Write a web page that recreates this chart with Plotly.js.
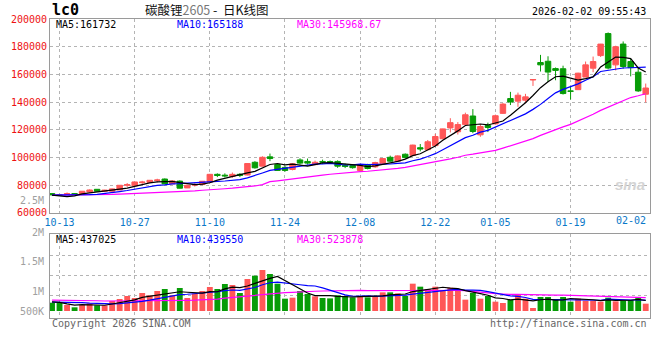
<!DOCTYPE html>
<html><head><meta charset="utf-8">
<script src="https://cdn.plot.ly/plotly-3.0.1.min.js"></script>
<style>html,body{margin:0;padding:0;background:#fff;} #chart{width:660px;height:360px;}</style>
</head><body><div id="chart"></div>
<script>
// ---- data ----
const dates = [
 '2025-10-10','2025-10-13','2025-10-14','2025-10-15','2025-10-16','2025-10-17','2025-10-20','2025-10-21','2025-10-22','2025-10-23','2025-10-24',
 '2025-10-27','2025-10-28','2025-10-29','2025-10-30','2025-10-31',
 '2025-11-03','2025-11-04','2025-11-05','2025-11-06','2025-11-07','2025-11-10','2025-11-11','2025-11-12','2025-11-13','2025-11-14',
 '2025-11-17','2025-11-18','2025-11-19','2025-11-20','2025-11-21','2025-11-24','2025-11-25','2025-11-26','2025-11-27','2025-11-28',
 '2025-12-01','2025-12-02','2025-12-03','2025-12-04','2025-12-05','2025-12-08','2025-12-09','2025-12-10','2025-12-11','2025-12-12',
 '2025-12-15','2025-12-16','2025-12-17','2025-12-18','2025-12-19','2025-12-22','2025-12-23','2025-12-24','2025-12-25','2025-12-26',
 '2025-12-29','2025-12-30','2025-12-31',
 '2026-01-05','2026-01-06','2026-01-07','2026-01-08','2026-01-09','2026-01-12','2026-01-13','2026-01-14','2026-01-15','2026-01-16',
 '2026-01-19','2026-01-20','2026-01-21','2026-01-22','2026-01-23','2026-01-26','2026-01-27','2026-01-28','2026-01-29','2026-01-30',
 '2026-02-02'
];
const openP = [74000,73200,73600,74000,73400,75200,77100,75700,75700,76600,80000,
 79600,81900,82100,83400,84500,81000,83000,78100,80100,80500,
 82400,87900,87300,86400,87900,87400,96600,93800,100500,95000,
 92900,91400,98300,97200,94900,97200,97100,97200,94500,94300,
 90700,95000,93300,95500,100200,97400,102400,101600,107100,105700,
 108600,113600,121400,118600,123800,130000,116400,123100,
 124300,131900,142600,140700,141400,156000,168600,169500,164200,164100,
 148000,149000,158100,164500,173600,189500,166900,181900,169300,161600,
 145700];
const highP = [74300,73500,74800,74300,75700,77000,77200,76700,77600,80000,81600,
 82400,83200,83800,84700,84900,83500,83500,80300,81800,83100,
 88200,88600,88600,89200,88800,96000,97400,100900,102900,95900,
 94000,95700,99500,99300,97800,98500,97900,98000,95600,95000,
 95300,95500,97000,99600,101400,101600,103000,109300,109800,112700,
 117100,120900,128400,125600,132400,135000,124000,125200,
 131000,139300,147400,146900,146000,156300,174100,173100,165000,166300,
 150900,161200,169300,172900,182000,190300,180700,183800,171200,165000,
 153400];
const lowP = [72900,72300,73000,73000,73400,74800,75500,75400,75500,76600,78800,
 79300,81000,81900,82000,80900,81000,77800,78000,79100,80500,
 82300,85900,85700,85400,85900,87200,92000,93700,97400,90500,
 89800,90800,95100,95000,94700,95300,95800,92600,92400,92000,
 90000,91500,92600,95000,97000,97000,99400,101000,104500,105200,
 108300,113200,118100,116600,123500,117600,115000,118400,
 123800,131500,137900,136600,139200,151700,162100,154500,155800,145500,
 141900,149000,158000,161600,172600,163700,162900,164100,158600,147400,
 139800];
const closeP = [73100,72800,73900,73300,75700,76600,75700,76400,77400,80000,80500,
 82400,82300,83600,83800,81000,83100,77900,80000,80500,82900,
 87900,87100,86800,87900,87200,95700,92600,100200,99300,90700,
 90700,95500,96000,96000,96600,96700,96700,93800,93600,92700,
 95000,92100,96400,99300,97400,101200,100000,109000,106200,111400,
 115200,120700,125200,123800,130900,118800,122400,121700,
 130200,138600,140100,145000,143800,156300,166900,161700,162900,146200,
 147900,160900,166900,169300,181900,164600,180000,165700,164900,148100,
 150200];
const volume = [350000,350000,252000,155000,252000,322000,238000,238000,420000,504000,
 630000,546000,756000,658000,840000,924000,658000,966000,546000,728000,
 840000,1008000,924000,1134000,1092000,756000,1344000,1484000,1722000,1554000,
 1148000,518000,560000,840000,714000,616000,546000,530000,658000,630000,
 574000,630000,574000,630000,784000,784000,742000,630000,1148000,1022000,
 924000,1022000,868000,980000,924000,476000,756000,518000,630000,392000,
 336000,462000,672000,518000,126000,588000,588000,462000,588000,392000,
 518000,434000,434000,392000,560000,406000,434000,462000,588000,308000];

// MA values before a full window exists
const ma5Head = [72900,72100,71800,72300];
const ma10Head = [72900,72900,72900,72900,72900,73200,73500,74000,74500];
const ma30Head = [72900,72900,72900,72900,72900,73100,73200,73300,73400,73600,
 73800,74000,74200,74400,74600,75000,75100,75300,75700,76000,
 76400,76600,76900,77500,77900,78300,78700,79500,80500];
const volMa5Head = [380000,360000,300000,250000];
const volMa10Head = [370000,370000,365000,360000,350000,330000,310000,300000,300000];
const volMa30Head = [460000,460000,460000,455000,450000,440000,430000,420000,420000,420000,
 425000,430000,440000,445000,450000,450000,450000,450000,450000,455000,
 460000,470000,500000,540000,570000,590000,620000,660000,690000];

const tickDates = ['2025-10-13','2025-10-27','2025-11-10','2025-11-24','2025-12-08','2025-12-22','2026-01-05','2026-01-19'];
const tickLabels = ['10-13','10-27','11-10','11-24','12-08','12-22','01-05','01-19'];
const lastLabel = '02-02';
const priceTicks = [60000,80000,100000,120000,140000,160000,180000,200000];
const volAxisLabels = ['2.5M','2M','1.5M','1M','500K'];
const priceMaTexts = ['MA5:161732','MA10:165188','MA30:145968.67'];
const volMaTexts = ['MA5:437025','MA10:439550','MA30:523878'];
const titleCode = 'lc0';
const titleName = '碳酸锂';
const titleContract = '2605';
const titleKind = '日K线图';
const timeStamp = '2026-02-02 09:55:43';

// ---- helpers ----
function movingAvg(arr, n, head) {
  return arr.map((v, i) => {
    if (i < n - 1) return head[i];
    let s = 0;
    for (let k = i - n + 1; k <= i; k++) s += arr[k];
    return s / n;
  });
}
const RED = '#ff5757', GREEN = '#079c07';
const MONO = 'DejaVu Sans Mono, monospace';

const ma5 = movingAvg(closeP, 5, ma5Head);
const ma10 = movingAvg(closeP, 10, ma10Head);
const ma30 = movingAvg(closeP, 30, ma30Head);
const vma5 = movingAvg(volume, 5, volMa5Head);
const vma10 = movingAvg(volume, 10, volMa10Head);
const vma30 = movingAvg(volume, 30, volMa30Head);
const volColors = closeP.map((c, i) => c >= openP[i] ? RED : GREEN);

const lineTrace = (y, color, xa, ya) => ({
  type: 'scatter', mode: 'lines', x: dates, y: y, xaxis: xa, yaxis: ya,
  line: {color: color, width: 1.2}, hoverinfo: 'skip', showlegend: false
});

const traces = [
  {type: 'candlestick', x: dates, open: openP, high: highP, low: lowP, close: closeP,
   xaxis: 'x', yaxis: 'y', whiskerwidth: 0,
   increasing: {line: {color: RED, width: 1}, fillcolor: RED},
   decreasing: {line: {color: GREEN, width: 1}, fillcolor: GREEN},
   showlegend: false, hoverinfo: 'skip'},
  lineTrace(ma30, '#ff00ff', 'x', 'y'),
  lineTrace(ma10, '#0000ff', 'x', 'y'),
  lineTrace(ma5, '#000000', 'x', 'y'),
  {type: 'bar', x: dates, y: volume, xaxis: 'x2', yaxis: 'y2', width: 0.78,
   marker: {color: volColors, line: {width: 0}}, showlegend: false, hoverinfo: 'skip'},
  lineTrace(vma30, '#ff00ff', 'x2', 'y2'),
  lineTrace(vma10, '#0000ff', 'x2', 'y2'),
  lineTrace(vma5, '#000000', 'x2', 'y2')
];

// pixel helpers for annotation placement (plot area: x 50..650, y 19..318)
const px = x => (x - 50) / 600;
const py = y => (318 - y) / 299;

const gridStyle = {showgrid: true, gridcolor: '#b4b4b4', griddash: 'dot', gridwidth: 1};
const frame = {showline: true, linecolor: '#9a9a9a', linewidth: 1, mirror: true, zeroline: false};
const xRange = [-0.27, dates.length - 1 + 0.57];

const ann = [];
const addText = (text, x, y, anchor, color, size, family) => ann.push({
  text: text, xref: 'paper', yref: 'paper', x: px(x), y: py(y), xanchor: anchor, yanchor: 'middle',
  showarrow: false, font: {family: family || MONO, size: size || 10, color: color}
});
addText('<b>' + titleCode + '</b>', 50, 10, 'left', '#000', 15);
addText(titleName + '<span style="color:#777">' + titleContract + '</span> -  ' + titleKind, 207, 9.2, 'center', '#111', 12.5, 'Noto Sans CJK SC, sans-serif');
addText(timeStamp, 648, 11, 'right', '#000', 10);
addText(priceMaTexts[0], 54, 24.8, 'left', '#000', 10);
addText(priceMaTexts[1], 175, 24.8, 'left', '#0000ff', 10);
addText(priceMaTexts[2], 295, 24.8, 'left', '#ff00ff', 10);
addText(volMaTexts[0], 54, 239, 'left', '#000', 10);
addText(volMaTexts[1], 175, 239, 'left', '#0000ff', 10);
addText(volMaTexts[2], 295, 239, 'left', '#ff00ff', 10);
const volLabelY = [200, 232, 261, 291, 311];
volAxisLabels.forEach((t, i) => addText(t, 46, volLabelY[i], 'right', '#a0a0a0', 10));
addText(lastLabel, 648, 220, 'right', '#0a78c8', 10);
addText('Copyright 2026 SINA.COM', 50, 323, 'left', '#666', 10);
addText('http://finance.sina.com.cn', 649, 323, 'right', '#666', 10);
addText('<b><i>sina</i></b>', 630, 184, 'center', '#d4d4d4', 15, 'Liberation Sans, sans-serif');

const layout = {
  width: 660, height: 360,
  margin: {l: 50, r: 10, t: 19, b: 42, pad: 0},
  paper_bgcolor: '#fff', plot_bgcolor: '#fff',
  showlegend: false, boxgap: 0.24, boxgroupgap: 0.04, bargap: 0.2,
  xaxis: Object.assign({type: 'category', anchor: 'y', range: xRange, tickvals: tickDates, ticktext: tickLabels,
    ticks: '', tickfont: {family: MONO, size: 10, color: '#0a78c8'}, rangeslider: {visible: false}, fixedrange: true}, gridStyle, frame),
  xaxis2: Object.assign({type: 'category', anchor: 'y2', matches: 'x', range: xRange, tickvals: tickDates,
    showticklabels: false, ticks: '', fixedrange: true}, gridStyle, frame),
  yaxis: Object.assign({domain: [0.3512, 1], range: [60000, 200000], tickvals: priceTicks,
    ticktext: priceTicks.map(String), ticks: '', tickfont: {family: MONO, size: 10, color: '#ee1111'}, fixedrange: true}, gridStyle, frame),
  yaxis2: Object.assign({domain: [0, 0.2809], range: [-294000, 3234000], tickvals: [672000, 1512000, 2352000],
    showticklabels: false, ticks: '', fixedrange: true}, gridStyle, frame),
  annotations: ann
};

Plotly.newPlot('chart', traces, layout, {displayModeBar: false, staticPlot: true});
</script></body></html>
